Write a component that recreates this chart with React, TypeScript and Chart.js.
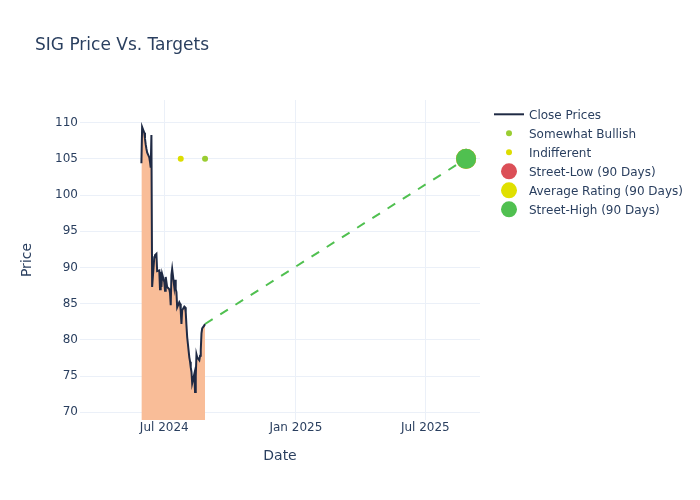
import React, { useEffect, useRef } from "react";
import { Chart, registerables } from "chart.js";

Chart.register(...registerables);

const titleText = "SIG Price Vs. Targets";
const xAxisTitle = "Date";
const yAxisTitle = "Price";

const closeDates = [
  "2024-05-30","2024-05-31","2024-06-03","2024-06-04","2024-06-05","2024-06-06","2024-06-07",
  "2024-06-10","2024-06-11","2024-06-12","2024-06-13","2024-06-14","2024-06-17","2024-06-18",
  "2024-06-20","2024-06-21","2024-06-24","2024-06-25","2024-06-26","2024-06-27","2024-06-28",
  "2024-07-01","2024-07-02","2024-07-03","2024-07-05","2024-07-08","2024-07-09","2024-07-10",
  "2024-07-11","2024-07-12","2024-07-15","2024-07-16","2024-07-17","2024-07-18","2024-07-19",
  "2024-07-22","2024-07-23","2024-07-24","2024-07-25","2024-07-26","2024-07-29","2024-07-30",
  "2024-07-31","2024-08-01","2024-08-02","2024-08-05","2024-08-06","2024-08-07","2024-08-08",
  "2024-08-09","2024-08-12","2024-08-13","2024-08-14","2024-08-15","2024-08-16","2024-08-19",
  "2024-08-20","2024-08-21","2024-08-22","2024-08-23","2024-08-26","2024-08-27",
];
const closePrices = [
  104.4, 109.4, 108.6, 107.8, 107.0, 106.4, 105.9,
  105.2, 104.6, 103.8, 108.3, 87.3, 91.4, 91.7,
  91.9, 89.5, 89.6, 87.0, 89.4, 87.3, 89.1,
  88.0, 86.8, 88.7, 87.3, 87.0, 86.5, 84.8,
  89.0, 89.8, 87.3, 88.3, 87.0, 86.6, 84.5,
  85.2, 85.0, 84.0, 82.2, 84.1, 84.6, 84.5,
  83.8, 82.0, 80.4, 77.6, 77.0, 76.2, 75.6,
  74.0, 75.3, 72.8, 75.0, 78.0, 77.6, 77.2,
  77.8, 78.6, 80.9, 81.6, 82.0, 82.2,
];

const somewhatBullishDates = ["2024-08-27"];
const somewhatBullishValues = [105];
const indifferentDates = ["2024-07-24"];
const indifferentValues = [105];

const targetDate = "2025-08-27";
const streetLow = 105;
const averageRating = 105;
const streetHigh = 105;

const xTickDates = ["2024-07-01", "2025-01-01", "2025-07-01"];
const xTickLabels = ["Jul 2024", "Jan 2025", "Jul 2025"];
const yTicks = [70, 75, 80, 85, 90, 95, 100, 105, 110];
const xRange = ["2024-03-05T03:00:00Z", "2025-09-15T12:00:00Z"];
const yRange = [68.94, 113.13];

const legendNames = [
  "Close Prices",
  "Somewhat Bullish",
  "Indifferent",
  "Street-Low (90 Days)",
  "Average Rating (90 Days)",
  "Street-High (90 Days)",
];

const FONT = "'DejaVu Sans', Verdana, sans-serif";
const TEXT = "#2a3f5f";
const GRID = "#EBF0F8";
const LINE = "#1F2A44";
const FILL = "#F9BD98";
const C_BULL = "#9ACD32";
const C_IND = "#DDDD00";
const C_LOW = "#DB4F57";
const C_AVG = "#E0E000";
const C_HIGH = "#50C050";

const t = (s: string) => Date.parse(s);

const overlayPlugin = {
  id: "overlay",
  afterDraw(chart: any) {
    const ctx = chart.ctx as CanvasRenderingContext2D;
    const area = chart.chartArea;
    ctx.save();
    // Title
    ctx.fillStyle = TEXT;
    ctx.font = `17px ${FONT}`;
    ctx.textAlign = "left";
    ctx.textBaseline = "alphabetic";
    ctx.fillText(titleText, 35, 50);
    // Axis titles
    ctx.font = `14px ${FONT}`;
    ctx.textAlign = "center";
    ctx.textBaseline = "middle";
    ctx.fillText(xAxisTitle, (area.left + area.right) / 2, 456);
    ctx.save();
    ctx.translate(27, (area.top + area.bottom) / 2);
    ctx.rotate(-Math.PI / 2);
    ctx.fillText(yAxisTitle, 0, 0);
    ctx.restore();
    // Legend
    const colors = [LINE, C_BULL, C_IND, C_LOW, C_AVG, C_HIGH];
    const radii = [0, 3, 3, 8, 8, 8];
    const x0 = 494;
    const y0 = 114.3;
    const step = 19;
    ctx.font = `12px ${FONT}`;
    ctx.textAlign = "left";
    ctx.textBaseline = "alphabetic";
    legendNames.forEach((name, i) => {
      const y = y0 + i * step;
      if (i === 0) {
        ctx.strokeStyle = LINE;
        ctx.lineWidth = 2;
        ctx.beginPath();
        ctx.moveTo(x0, y);
        ctx.lineTo(x0 + 30, y);
        ctx.stroke();
      } else {
        ctx.fillStyle = colors[i];
        ctx.beginPath();
        ctx.arc(x0 + 15, y, radii[i], 0, Math.PI * 2);
        ctx.fill();
      }
      ctx.fillStyle = TEXT;
      ctx.fillText(name, x0 + 35, y + 4.3);
    });
    ctx.restore();
  },
};

export default function App() {
  const ref = useRef<HTMLCanvasElement | null>(null);

  useEffect(() => {
    if (!ref.current) return;
    const closeData = closeDates.map((d, i) => ({ x: t(d), y: closePrices[i] }));
    const lastIdx = closeDates.length - 1;
    const chart = new Chart(ref.current, {
      type: "line",
      data: {
        datasets: [
          {
            label: legendNames[5],
            data: [{ x: t(targetDate), y: streetHigh }],
            showLine: false,
            pointRadius: 10,
            pointBackgroundColor: C_HIGH,
            pointBorderColor: C_HIGH,
            pointBorderWidth: 0,
            order: 0,
          },
          {
            label: legendNames[4],
            data: [{ x: t(targetDate), y: averageRating }],
            showLine: false,
            pointRadius: 10,
            pointBackgroundColor: C_AVG,
            pointBorderWidth: 0,
            order: 1,
          },
          {
            label: legendNames[3],
            data: [{ x: t(targetDate), y: streetLow }],
            showLine: false,
            pointRadius: 10,
            pointBackgroundColor: C_LOW,
            pointBorderWidth: 0,
            order: 2,
          },
          {
            label: legendNames[1],
            data: somewhatBullishDates.map((d, i) => ({ x: t(d), y: somewhatBullishValues[i] })),
            showLine: false,
            pointRadius: 3,
            pointBackgroundColor: C_BULL,
            pointBorderWidth: 0,
            order: 3,
          },
          {
            label: legendNames[2],
            data: indifferentDates.map((d, i) => ({ x: t(d), y: indifferentValues[i] })),
            showLine: false,
            pointRadius: 3,
            pointBackgroundColor: C_IND,
            pointBorderWidth: 0,
            order: 4,
          },
          {
            label: "Target line",
            data: [
              { x: t(closeDates[lastIdx]), y: closePrices[lastIdx] },
              { x: t(targetDate), y: streetHigh },
            ],
            borderColor: C_HIGH,
            borderWidth: 2,
            borderDash: [9, 9],
            pointRadius: 0,
            fill: false,
            order: 5,
          },
          {
            label: legendNames[0],
            data: closeData,
            borderColor: LINE,
            borderWidth: 2,
            backgroundColor: FILL,
            fill: "start",
            pointRadius: 0,
            tension: 0,
            order: 6,
          },
        ],
      },
      options: {
        animation: false,
        responsive: false,
        devicePixelRatio: 1,
        layout: { padding: { left: 0, top: 100, right: 220, bottom: 0 } },
        plugins: {
          legend: { display: false },
          title: { display: false },
          tooltip: { enabled: false },
        },
        scales: {
          x: {
            type: "linear",
            min: t(xRange[0]),
            max: t(xRange[1]),
            border: { display: false },
            grid: { color: GRID, lineWidth: 1, drawTicks: false },
            ticks: {
              color: TEXT,
              font: { family: FONT, size: 12 },
              padding: 1,
              maxRotation: 0,
              autoSkip: false,
              callback: (v: any) => {
                const i = xTickDates.findIndex((d) => t(d) === v);
                return i >= 0 ? xTickLabels[i] : "";
              },
            },
            afterBuildTicks: (scale: any) => {
              scale.ticks = xTickDates.map((d) => ({ value: t(d) }));
            },
            afterFit: (scale: any) => {
              scale.height = 80;
            },
          },
          y: {
            type: "linear",
            min: yRange[0],
            max: yRange[1],
            border: { display: false },
            grid: { color: GRID, lineWidth: 1, drawTicks: false },
            ticks: {
              color: TEXT,
              font: { family: FONT, size: 12 },
              padding: 2,
              autoSkip: false,
            },
            afterBuildTicks: (scale: any) => {
              scale.ticks = yTicks.map((v) => ({ value: v }));
            },
            afterFit: (scale: any) => {
              scale.width = 80;
            },
          },
        },
      },
      plugins: [overlayPlugin],
    } as any);
    return () => chart.destroy();
  }, []);

  return (
    <div style={{ position: "fixed", left: 0, top: 0, width: 700, height: 500, background: "#fff" }}>
      <canvas ref={ref} width={700} height={500} style={{ display: "block", width: 700, height: 500 }} />
    </div>
  );
}
